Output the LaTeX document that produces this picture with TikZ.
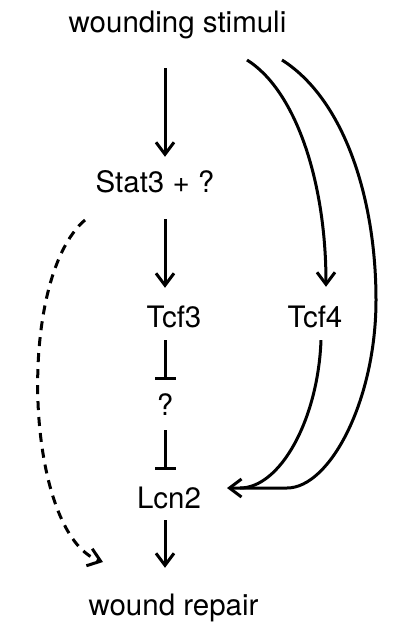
\documentclass[tikz,border=0pt]{standalone}
\usepackage{fontspec}
\newfontfamily\heros{TeX Gyre Heros}
\usetikzlibrary{arrows.meta}
\begin{document}
\begin{tikzpicture}[x=1pt,y=-1pt,
  lbl/.style={font=\heros\fontsize{29.5}{34}\selectfont, anchor=base, inner sep=0pt, text height=22pt, text depth=6pt},
  ln/.style={line width=3pt},
  arr/.style={ln, -{Straight Barb[length=12pt,width=18pt]}},
  inh/.style={ln, -{Bar[width=21pt]}},
  dsh/.style={arr, dash pattern=on 9pt off 7pt}]
\useasboundingbox (0,0) rectangle (400,636);
\node[lbl] (ws) at (177.5,33) {wounding stimuli};
\node[lbl] (stat) at (155,193) {Stat3 + ?};
\node[lbl] (tcf3) at (174,327) {Tcf3};
\node[lbl] (tcf4) at (315,327) {Tcf4};
\node[lbl] (q) at (165,415) {?};
\node[lbl] (lcn) at (169,508) {Lcn2};
\node[lbl] (wr) at (173.5,615) {wound repair};
\coordinate (cx) at (165,0);
\coordinate (rx) at (326,0);
\coordinate (ix) at (321,0);
\coordinate (s1) at (247,60);
\coordinate (s2) at (282,60);
\coordinate (lin) at (227,488);
\coordinate (ds) at (85,220);
\coordinate (de) at (103,562);
% main column
\draw[arr, shorten <=29pt, shorten >=14pt] (ws.south -| cx) -- (stat.north -| cx);
\draw[arr, shorten <=20pt, shorten >=17pt] (stat.south -| cx) -- (tcf3.north -| cx);
\draw[inh, shorten <=7pt, shorten >=13pt] (tcf3.south -| cx) -- (q.north -| cx);
\draw[inh, shorten <=9pt, shorten >=16pt] (q.south -| cx) -- (lcn.north -| cx);
\draw[arr, shorten <=6pt, shorten >=25pt] (lcn.south -| cx) -- (wr.north -| cx);
% wounding stimuli -> Tcf4
\draw[arr, shorten >=18pt] (s1) .. controls (295,90) and (326,180) .. (tcf4.north -| rx);
% wounding stimuli -> Lcn2 (outer)
\draw[arr] (s2) .. controls (345,100) and (376,200) .. (376,300)
  .. controls (376,400) and (330,488) .. (287,488) -- (lin);
% Tcf4 -> Lcn2 (inner, merging)
\draw[ln] ([yshift=-7pt]tcf4.south -| ix) .. controls (318,420) and (280,488) .. (240,488);
% Stat3 -> wound repair (dashed)
\draw[dsh] (ds) .. controls (15,280) and (25,535) .. (de);
\end{tikzpicture}
\end{document}
